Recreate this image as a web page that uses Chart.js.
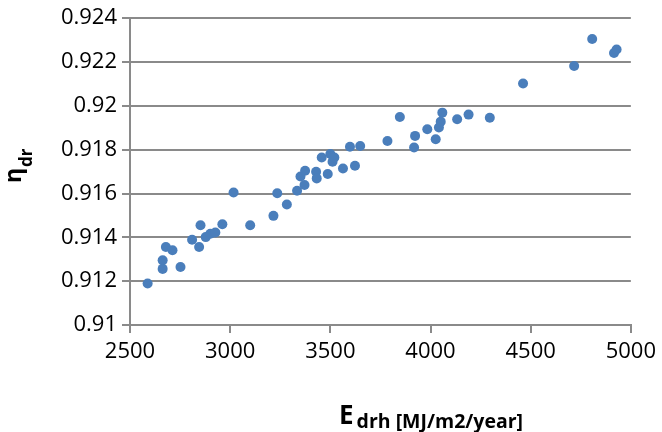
<!DOCTYPE html>
<html>
<head>
<meta charset="utf-8">
<script src="https://cdn.jsdelivr.net/npm/chart.js@4/dist/chart.umd.min.js"></script>
<style>
html,body{margin:0;padding:0;background:#fff;}
#wrap{width:662px;height:432px;}
</style>
</head>
<body>
<div id="wrap"><canvas id="c" width="662" height="432"></canvas></div>
<script>
// Annual solar energy on the receiver (MJ/m2/year)
const edrh = [2588, 2663, 2663, 2679, 2712, 2752, 2810, 2845, 2852, 2878,
              2901, 2926, 2961, 3017, 3100, 3216, 3235, 3283, 3334, 3351,
              3374, 3371, 3429, 3432, 3457, 3487, 3500, 3511, 3520, 3563,
              3598, 3623, 3649, 3785, 3847, 3918, 3923, 3984, 4026, 4042,
              4051, 4059, 4133, 4190, 4296, 4462, 4717, 4807, 4916, 4929];
// Efficiency eta_dr
const etaDr = [0.91189, 0.91295, 0.91256, 0.91356, 0.91341, 0.91265, 0.91389, 0.91356, 0.91455, 0.91401,
               0.91416, 0.91422, 0.91460, 0.91605, 0.91455, 0.91498, 0.91601, 0.91550, 0.91613, 0.91678,
               0.91704, 0.91639, 0.91699, 0.91669, 0.91764, 0.91689, 0.91780, 0.91745, 0.91764, 0.91714,
               0.91813, 0.91727, 0.91817, 0.91840, 0.91949, 0.91810, 0.91863, 0.91893, 0.91848, 0.91901,
               0.91928, 0.91969, 0.91939, 0.91960, 0.91946, 0.92102, 0.92182, 0.92305, 0.92241, 0.92257];

const xTickLabels = ['2500', '3000', '3500', '4000', '4500', '5000'];
const yTickLabels = ['0.91', '0.912', '0.914', '0.916', '0.918', '0.92', '0.922', '0.924'];

const xMin = 2500, xMax = 5000, xStep = 500;
const yMin = 0.91, yMax = 0.924, yStep = 0.002;

const points = edrh.map((x, i) => ({x: x, y: etaDr[i]}));

const FONT = "'Open Sans', 'Liberation Sans', sans-serif";
const GRID = '#8a8a8a';

const titlePlugin = {
  id: 'titles',
  afterDraw(chart) {
    const ctx = chart.ctx;
    ctx.save();
    ctx.fillStyle = '#000';
    ctx.textBaseline = 'alphabetic';
    ctx.textAlign = 'left';
    // Y axis title: η with subscript "dr", rotated
    ctx.save();
    ctx.translate(21, 183);
    ctx.rotate(-Math.PI / 2);
    ctx.font = "bold 23px " + FONT;
    ctx.fillText('η', 0, 0);
    const w = ctx.measureText('η').width;
    ctx.font = "bold 17px " + FONT;
    ctx.fillText('dr', w + 1, 11);
    ctx.restore();
    // X axis title: E with subscript "drh [MJ/m2/year]"
    ctx.font = "bold 26px " + FONT;
    ctx.fillText('E', 339, 424);
    const we = ctx.measureText('E').width;
    ctx.font = "bold 19.5px " + FONT;
    ctx.fillText('drh [MJ/m2/year]', 339 + we + 3, 428);
    ctx.restore();
  }
};

new Chart(document.getElementById('c'), {
  type: 'scatter',
  data: {
    datasets: [{
      data: points,
      backgroundColor: '#4a7ebb',
      borderColor: '#4a7ebb',
      borderWidth: 0,
      pointRadius: 5,
      pointHoverRadius: 5
    }]
  },
  options: {
    responsive: false,
    animation: false,
    events: [],
    layout: {padding: {top: 17, right: 30, left: 0, bottom: 0}},
    plugins: {legend: {display: false}, tooltip: {enabled: false}},
    scales: {
      x: {
        type: 'linear',
        min: xMin, max: xMax,
        afterFit: s => { s.height = 107; },
        afterBuildTicks: s => { s.ticks = xTickLabels.map((t, i) => ({value: xMin + i * xStep})); },
        ticks: {
          callback: (v, i) => xTickLabels[i],
          font: {family: FONT, size: 22},
          color: '#000',
          padding: 6,
          maxRotation: 0,
          autoSkip: false
        },
        grid: {drawOnChartArea: false, drawTicks: true, tickLength: 8, color: GRID, lineWidth: 2},
        border: {display: true, color: GRID, width: 2}
      },
      y: {
        type: 'linear',
        min: yMin, max: yMax,
        afterFit: s => { s.width = 130; },
        afterBuildTicks: s => { s.ticks = yTickLabels.map((t, i) => ({value: yMin + i * yStep})); },
        ticks: {
          callback: (v, i) => yTickLabels[i],
          font: {family: FONT, size: 22},
          color: '#000',
          padding: 5,
          autoSkip: false
        },
        grid: {drawTicks: true, tickLength: 8, color: GRID, lineWidth: 2},
        border: {display: true, color: GRID, width: 2}
      }
    }
  },
  plugins: [titlePlugin]
});
</script>
</body>
</html>
